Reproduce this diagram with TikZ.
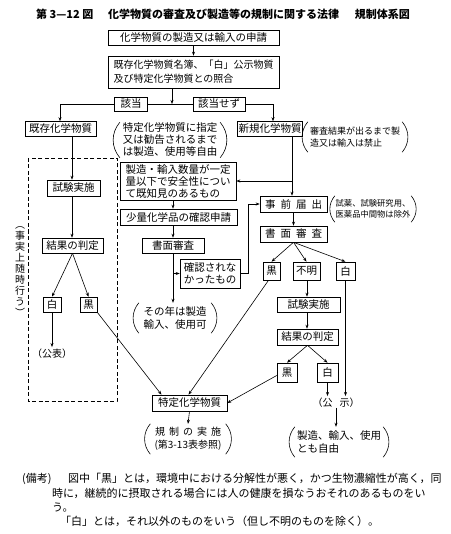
\documentclass[tikz,border=0pt]{standalone}
\usepackage{fontspec}
\setmainfont{Noto Sans CJK JP}
\usetikzlibrary{arrows.meta,calc}
\newcommand\fsz{\fontsize{10.5pt}{12.5pt}\selectfont}
\newcommand\fsm{\fontsize{9pt}{12pt}\selectfont}
\newcommand\pparen[1]{%
  \draw[ln] ([xshift=3pt]#1.north west) to[bend right=40] ([xshift=3pt]#1.south west);
  \draw[ln] ([xshift=-3pt]#1.north east) to[bend left=40] ([xshift=-3pt]#1.south east);}
\begin{document}
\begin{tikzpicture}[x=1pt,y=-1pt,
  box/.style={draw,line width=0.6pt,inner sep=0pt,font=\fsz},
  ptxt/.style={inner sep=0pt,align=left,font=\fsz},
  ttl/.style={inner sep=0pt,font=\fontsize{11pt}{13pt}\selectfont\bfseries},
  note/.style={inner sep=0pt,anchor=base west,font=\fontsize{11pt}{13pt}\selectfont},
  ln/.style={line width=0.6pt},
  arr/.style={ln,-{Stealth[length=4pt,width=3pt]}}]
\useasboundingbox (0,0) rectangle (450,534);

% title
\node[ttl,anchor=west] (t1) at (36,14) {第 3—12 図};
\node[ttl,anchor=west] (t2) at (108,14) {化学物質の審査及び製造等の規制に関する法律};
\node[ttl,anchor=east] (t3) at (410,14) {規制体系図};

% top
\node[box,minimum width=171,minimum height=15] (b1) at (193.5,37.5) {化学物質の製造又は輸入の申請};
\node[box,minimum width=171,minimum height=32,align=left,font=\fontsize{10pt}{14pt}\selectfont] (b2) at (193.5,72) {既存化学物質名簿、「白」公示物質\\及び特定化学物質との照合};
\draw[arr] (b1.south) -- (b2.north);

\node[box,minimum width=33,minimum height=14] (g1) at (131,104) {該当};
\node[box,minimum width=52,minimum height=14] (g2) at (219,104) {該当せず};
\node[box,minimum width=71,minimum height=15] (kizon) at (60.5,129) {既存化学物質};
\node[box,minimum width=65,minimum height=15] (shinki) at (270,129) {新規化学物質};
\coordinate (j) at (172,104);
\coordinate (cL) at (60,104);
\coordinate (cR) at (273,104);
\draw[arr] (j |- b2.south) -- (j);
\draw[ln] (g1.east) -- (g2.west);
\draw[arr] (g1.west) -- (cL) -- (cL |- kizon.north);
\draw[arr] (g2.east) -- (cR) -- (cR |- shinki.north);

\node[ptxt,minimum width=106,minimum height=35,font=\fontsize{10.5pt}{12pt}\selectfont] (tp) at (170,140) {特定化学物質に指定\\又は勧告されるまで\\は製造、使用等自由};
\pparen{tp}
\node[ptxt,minimum width=100,minimum height=30,font=\fsm] (sp) at (355,137) {審査結果が出るまで製\\造又は輸入は禁止};
\pparen{sp}

% left (existing)
\draw[ln,dash pattern=on 4pt off 2.5pt] (28,158) rectangle (117,401);
\node[inner sep=0pt,align=center,font=\fontsize{10pt}{11pt}\selectfont] (vt) at (20,272) {︵\\事\\実\\上\\随\\時\\行\\う\\︶};
\node[box,minimum width=53,minimum height=16] (shikenL) at (73.5,188) {試験実施};
\node[box,minimum width=61,minimum height=15] (kekkaL) at (72.5,245.5) {結果の判定};
\coordinate (x72) at (72,0);
\draw[arr] (kizon.south -| x72) -- (shikenL.north -| x72);
\draw[arr] (shikenL.south -| x72) -- (kekkaL.north -| x72);
\node[box,minimum width=18,minimum height=15] (shiroL) at (52,304.5) {白};
\node[box,minimum width=17,minimum height=15] (kuroL) at (88.5,304.5) {黒};
\draw[arr] (kekkaL.south) -- (shiroL.north);
\draw[arr] (kekkaL.south) -- (kuroL.north);
\node[inner sep=0pt,font=\fontsize{10pt}{12pt}\selectfont] (kohyo) at (52,354) {（公表）};
\draw[arr,shorten >=2pt] (shiroL.south) -- (kohyo.north);

% middle
\node[box,minimum width=116,minimum height=38,align=left,font=\fontsize{10.5pt}{12pt}\selectfont] (seizo) at (178,181) {製造・輸入数量が一定\\量以下で安全性につい\\て既知見のあるもの};
\node[box,minimum width=117,minimum height=16] (shoryo) at (178.5,217) {少量化学品の確認申請};
\node[box,minimum width=62,minimum height=15] (shomenL) at (173,245.5) {書面審査};
\node[box,minimum width=60,minimum height=29,align=left,font=\fontsize{10.5pt}{12.5pt}\selectfont] (kakunin) at (210,273.5) {確認されな\\かったもの};
\node[ptxt,minimum width=78,minimum height=30] (sonotoshi) at (175,318) {その年は製造\\輸入、使用可};
\pparen{sonotoshi}
\coordinate (x173) at (173,0);
\draw[arr] (seizo.south -| x173) -- (shoryo.north -| x173);
\draw[arr] (shoryo.south -| x173) -- (shomenL.north -| x173);
\draw[arr] (shomenL.south -| x173) -- (sonotoshi.north -| x173);
\draw[arr] (x173 |- kakunin.west) -- (kakunin.west);

% right (new)
\node[box,minimum width=67,minimum height=16] (jizen) at (293.5,204) {事\hspace{5pt}前\hspace{5pt}届\hspace{5pt}出};
\node[ptxt,minimum width=82,minimum height=26,font=\fontsize{8.3pt}{11pt}\selectfont] (shiyaku) at (373,209) {試薬、試験研究用、\\医薬品中間物は除外};
\pparen{shiyaku}
\node[box,minimum width=67,minimum height=16] (shomenR) at (293.5,234) {書\hspace{5pt}面\hspace{5pt}審\hspace{5pt}査};
\coordinate (x292) at (292,0);
\draw[arr] (shinki.south -| x292) -- (jizen.north -| x292);
\draw[arr] (seizo.east -| x292) -- (seizo.east);
\draw[arr] (kakunin.east) -- ++(8,0) |- (jizen.west);
\draw[arr] (jizen.south) -- (shomenR.north);

\node[box,minimum width=17,minimum height=18] (kuroR1) at (271.5,271) {黒};
\node[box,minimum width=27,minimum height=18] (fumei) at (306.5,271) {不明};
\node[box,minimum width=19,minimum height=18] (shiroR1) at (345.5,271) {白};
\draw[arr] (shomenR.south) -- (kuroR1.north);
\draw[arr] (shomenR.south) -- (fumei.north);
\draw[arr] (shomenR.south) -- (shiroR1.north);

\node[box,minimum width=63,minimum height=15] (shikenR) at (308.5,304.5) {試験実施};
\node[box,minimum width=61,minimum height=16] (kekkaR) at (307.5,337) {結果の判定};
\coordinate (x307) at (307,0);
\draw[arr] (fumei.south -| x307) -- (shikenR.north -| x307);
\draw[arr] (shikenR.south -| x307) -- (kekkaR.north -| x307);
\node[box,minimum width=20,minimum height=19] (kuroR2) at (287,372.5) {黒};
\node[box,minimum width=21,minimum height=19] (shiroR2) at (327.5,372.5) {白};
\draw[arr] (kekkaR.south) -- (kuroR2.north);
\draw[arr] (kekkaR.south) -- (shiroR2.north);

\node[inner sep=0pt,font=\fontsize{10pt}{12pt}\selectfont] (koji) at (336,403) {（公\hspace{7pt}示）};
\draw[arr,shorten >=2pt] (shiroR2.south) -- (shiroR2.south |- koji.north);
\draw[arr,shorten >=2pt] (shiroR1.south) -- (shiroR1.south |- koji.north);
\node[ptxt,minimum width=94,minimum height=30] (jiyu) at (339,442) {製造、輸入、使用\\とも自由};
\pparen{jiyu}
\draw[arr] (koji.south) -- (koji.south |- jiyu.north);

% bottom centre
\node[box,minimum width=75,minimum height=16] (tokuteiB) at (189.5,403) {特定化学物質};
\draw[arr] (kuroL.south east) -- ([xshift=-28pt]tokuteiB.north);
\draw[arr] ([xshift=-3pt]kuroR1.south) -- ([xshift=-1pt]tokuteiB.north);
\draw[arr] ([yshift=-3pt]kuroR2.west) -- (tokuteiB.east);
\node[inner sep=0pt,align=center,minimum width=81,minimum height=30,font=\fontsize{10pt}{13pt}\selectfont] (kisei) at (188,439) {規\hspace{4pt}制\hspace{4pt}の\hspace{4pt}実\hspace{4pt}施\\(第3-13表参照)};
\pparen{kisei}
\draw[arr] (tokuteiB.south) -- (kisei.north);

% notes
\node[note] (n0) at (22,482) {(備考)};
\node[note] (n1) at (68,482) {図中「黒」とは，環境中における分解性が悪く，かつ生物濃縮性が高く，同};
\node[note] (n2) at (52,497) {時に，継続的に摂取される場合には人の健康を損なうおそれのあるものをい};
\node[note] (n3) at (52,511) {う。};
\node[note] (n4) at (60,525) {「白」とは，それ以外のものをいう（但し不明のものを除く）。};
\end{tikzpicture}
\end{document}
